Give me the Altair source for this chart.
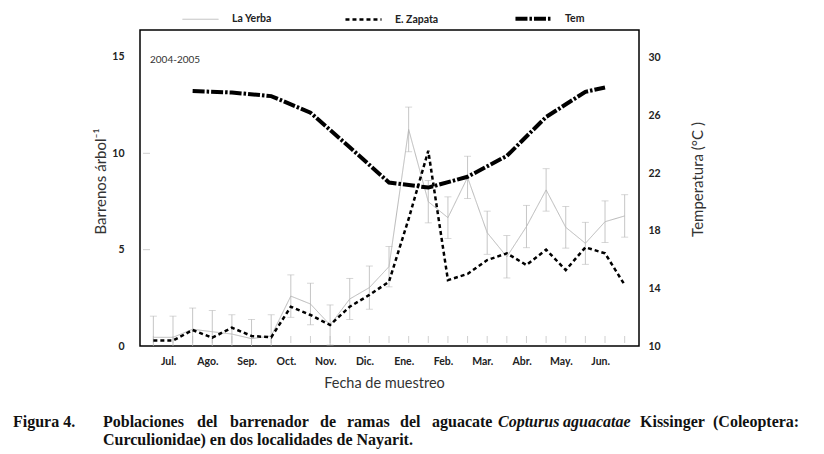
import altair as alt
import pandas as pd

# ---------------- data ----------------
idx = list(range(25))
la_yerba = [0.45, 0.45, 0.87, 0.74, 0.62, 0.38, 0.52, 2.59, 2.18, 1.09, 2.44, 3.03, 4.12,
            11.24, 7.49, 6.66, 8.75, 5.88, 4.63, 6.2, 8.1, 6.16, 5.33, 6.45, 6.75]
la_yerba_err = [1.1, 1.1, 1.1, 1.1, 1.0, 1.0, 1.1, 1.1, 1.08, 1.04, 1.07, 1.12, 1.05,
                1.16, 1.1, 1.08, 1.1, 1.12, 1.1, 1.1, 1.1, 1.08, 1.09, 1.08, 1.1]
e_zapata = [0.28, 0.28, 0.83, 0.43, 0.95, 0.52, 0.45, 2.04, 1.61, 1.09, 2.04, 2.65, 3.34,
            6.6, 10.13, 3.42, 3.74, 4.46, 4.81, 4.2, 5.0, 3.94, 5.12, 4.81, 3.17]
tem_idx = [2, 4, 6, 8, 10, 12, 14, 16, 18, 20, 22, 23]
tem = [27.7, 27.6, 27.35, 26.2, 23.8, 21.35, 21.0, 21.75, 23.2, 25.9, 27.65, 27.95]

months = ["Jul.", "Ago.", "Sep.", "Oct.", "Nov.", "Dic.", "Ene.", "Feb.", "Mar.", "Abr.", "May.", "Jun."]
month_pos = [0.75, 2.75, 4.75, 6.75, 8.75, 10.75, 12.75, 14.75, 16.75, 18.75, 20.75, 22.75]
left_ticks = [0, 5, 10, 15]
right_ticks = [10, 14, 18, 22, 26, 30]
inner_left_ticks = [5, 10]
series = ["La Yerba", "E. Zapata", "Tem"]

caption_label = "Figura 4."
caption_line1 = ["Poblaciones", "del", "barrenador", "de", "ramas", "del", "aguacate",
                 "Copturus", "aguacatae", "Kissinger", "(Coleoptera:"]
caption_italic = [False, False, False, False, False, False, False, True, True, False, False]
caption_line1_x = [-37, 57, 90, 180, 207, 260, 292, 358, 423, 500, 573]
caption_line2 = "Curculionidae) en dos localidades de Nayarit."
year_label = "2004-2005"

# ---------------- tables ----------------
lines_df = pd.concat([
    pd.DataFrame({"i": idx, "v": la_yerba, "serie": "La Yerba"}),
    pd.DataFrame({"i": idx, "v": e_zapata, "serie": "E. Zapata"}),
])
err_df = pd.DataFrame({"i": idx, "v": la_yerba, "e": la_yerba_err})
tem_df = pd.DataFrame({"i": tem_idx, "t": tem, "serie": "Tem"})
ticks_df = pd.DataFrame({"i": idx})
lt_df = pd.DataFrame({"t": inner_left_ticks})
one = pd.DataFrame({"a": [0]})

FONT = "Lato"
GRAY = "#b8b8b8"

label_expr = "[" + ",".join(f"'{m}'" for m in months) + "][round((datum.value-0.75)/2)]"

X = alt.X("i:Q",
          scale=alt.Scale(domain=[-0.68, 24.73], nice=False, zero=False),
          axis=alt.Axis(values=month_pos, labelExpr=label_expr, ticks=False, domain=False,
                        grid=False, labelFont=FONT, labelFontWeight="bold", labelFontSize=10.5,
                        labelColor="#222", labelPadding=10, labelFlush=False,
                        title="Fecha de muestreo", titleFont=FONT, titleFontSize=14.5,
                        titleFontWeight="normal", titleColor="#333",
                        titleX=244, titleY=37, titleAlign="center", titleBaseline="middle"))

YL_scale = alt.Scale(domain=[0, 16.4], nice=False, zero=False)
YL_axis = alt.Axis(values=left_ticks, ticks=False, domain=False, grid=False,
                   labelFont=FONT, labelFontWeight="bold", labelFontSize=10.5, labelColor="#222",
                   labelPadding=16,
                   title="Barrenos  árbol⁻¹", titleFont=FONT, titleFontSize=15,
                   titleFontWeight="normal", titleColor="#333", titleAngle=270,
                   titleX=-40, titleY=151, titleAlign="center", titleBaseline="middle")
YR_scale = alt.Scale(domain=[10, 31.94], nice=False, zero=False)
YR_axis = alt.Axis(orient="right", values=right_ticks, ticks=False, domain=False, grid=False,
                   labelFont=FONT, labelFontWeight="bold", labelFontSize=10.5, labelColor="#222",
                   labelPadding=9,
                   title="Temperatura (°C )", titleFont=FONT, titleFontSize=15,
                   titleFontWeight="normal", titleColor="#333", titleAngle=270,
                   titleX=58, titleY=149, titleAlign="center", titleBaseline="middle")

legend = alt.Legend(orient="none", legendX=40, legendY=-32, direction="horizontal", columns=3,
                    title=None, symbolType="stroke", symbolSize=1300, labelFont=FONT,
                    labelFontWeight="bold", labelFontSize=10.5, labelColor="#222",
                    labelOffset=11, columnPadding=68, padding=0)
C = alt.Color("serie:N", scale=alt.Scale(domain=series, range=[GRAY, "black", "black"]), legend=legend)
D = alt.StrokeDash("serie:N", scale=alt.Scale(domain=series, range=[[1, 0], [4, 3], [12, 2, 2.5, 2]]),
                   legend=legend)
W = alt.StrokeWidth("serie:N", scale=alt.Scale(domain=series, range=[1, 4, 3.5]), legend=legend)

err_base = alt.Chart(err_df).transform_calculate(
    lo="max(0, datum.v - datum.e)", hi="datum.v + datum.e")

err_rules = err_base.mark_rule(color=GRAY, strokeWidth=0.8).encode(
    x=X, y=alt.Y("lo:Q", scale=YL_scale, axis=YL_axis), y2="hi:Q")
cap_top = err_base.mark_tick(orient="horizontal", size=7, thickness=0.8, color=GRAY).encode(
    x=X, y=alt.Y("hi:Q", scale=YL_scale, axis=YL_axis))
cap_bot = err_base.transform_filter("datum.lo > 0").mark_tick(
    orient="horizontal", size=7, thickness=0.8, color=GRAY).encode(
    x=X, y=alt.Y("lo:Q", scale=YL_scale, axis=YL_axis))

x_inner = alt.Chart(ticks_df).mark_rule(color="#c4c4c4", strokeWidth=0.8).encode(
    x=X, y=alt.value(306), y2=alt.value(313))
y_inner = alt.Chart(lt_df).mark_rule(color="#c4c4c4", strokeWidth=0.8).encode(
    y=alt.Y("t:Q", scale=YL_scale, axis=YL_axis), x=alt.value(3), x2=alt.value(10))

left_lines = alt.Chart(lines_df).mark_line(strokeCap="butt").encode(
    x=X, y=alt.Y("v:Q", scale=YL_scale, axis=YL_axis), color=C, strokeDash=D, strokeWidth=W,
    order="i:Q")

year_text = alt.Chart(one).mark_text(align="left", baseline="middle", font=FONT, fontSize=10,
                                     color="#333").encode(
    x=alt.value(10), y=alt.value(30), text=alt.value(year_label))

cap_layers = [alt.Chart(one).mark_text(align="left", baseline="middle", font="Liberation Serif",
                                       fontSize=16, fontWeight="bold", color="#111").encode(
    x=alt.value(-127), y=alt.value(392), text=alt.value(caption_label))]
for w, it, px in zip(caption_line1, caption_italic, caption_line1_x):
    cap_layers.append(alt.Chart(one).mark_text(
        align="left", baseline="middle", font="Liberation Serif", fontSize=16, fontWeight="bold",
        fontStyle="italic" if it else "normal", color="#111").encode(
        x=alt.value(px), y=alt.value(392), text=alt.value(w)))
cap_layers.append(alt.Chart(one).mark_text(align="left", baseline="middle", font="Liberation Serif",
                                           fontSize=16, fontWeight="bold", color="#111").encode(
    x=alt.value(-37), y=alt.value(410), text=alt.value(caption_line2)))

left = alt.layer(x_inner, y_inner, err_rules, cap_top, cap_bot, left_lines, year_text, *cap_layers)

right = alt.Chart(tem_df).mark_line(strokeCap="butt").encode(
    x=X, y=alt.Y("t:Q", scale=YR_scale, axis=YR_axis), color=C, strokeDash=D, strokeWidth=W)

chart = alt.layer(left, right).resolve_scale(y="independent").properties(
    width=499, height=316, autosize="none",
    padding={"left": 132, "top": 22, "right": 177, "bottom": 108},
    background="white",
).configure_view(stroke="black", strokeWidth=1.5)

chart.save("out.html", embed_options={"renderer": "svg", "actions": False})
